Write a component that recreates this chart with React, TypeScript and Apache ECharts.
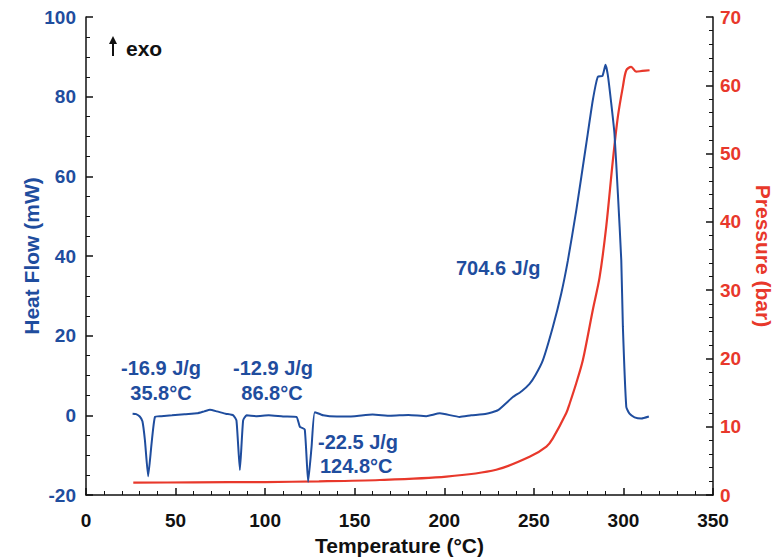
import React, { useEffect, useRef } from "react";
import * as echarts from "echarts";

const BLUE = "#1f4d9e";
const RED = "#e8382b";

// Heat flow (mW) vs temperature (°C)
const heatTemp = [26, 28, 30, 31.5, 32.9, 34.7, 36.6, 38.5, 42, 48, 55, 62, 66, 69.2, 73, 78, 82.2, 84, 85.9, 87.7, 89.6, 95, 102, 110, 117.5, 119.4, 122.1, 124, 125.9, 127.7, 132.4, 140, 150, 160, 170, 180, 190, 197.5, 208.6, 215, 223.5, 230, 238.3, 243, 247.6, 251, 255, 260.6, 265.3, 269, 273.7, 279.3, 282.9, 285.7, 288.3, 290, 291.3, 293.2, 295, 296.9, 298.8, 299.7, 301.6, 303.4, 306.2, 310, 314.2];
const heatFlow = [0.4, 0.3, -0.3, -1.5, -6.3, -15.3, -7.1, -0.4, -0.2, 0, 0.3, 0.5, 1.0, 1.4, 1.0, 0.4, 0, -1.3, -13.7, -1.3, 0, -0.2, 0, -0.3, -0.4, -2.9, -3.5, -16.7, -8, 0.8, 0, -0.3, -0.2, 0.2, -0.1, 0.1, -0.2, 0.5, -0.4, 0, 0.4, 1.3, 4.6, 6.0, 7.9, 10.2, 13.8, 22.2, 30.6, 38.9, 51.5, 68.3, 79.1, 85, 85.2, 88, 85.4, 78.3, 70.7, 55.7, 38.9, 22.2, 2.1, 0.4, -0.5, -0.8, -0.3];

// Pressure (bar) vs temperature (°C)
const presTemp = [26.4, 60, 100, 130, 164, 201.2, 229, 247.6, 257, 260.6, 268.1, 270, 273.7, 277.4, 282.9, 286.7, 290.4, 294.1, 296.9, 299.7, 301.6, 304.3, 307.1, 310.5, 314.6];
const pressure = [1.8, 1.85, 1.9, 2.0, 2.2, 2.7, 3.7, 5.6, 7.1, 8.3, 12, 13.4, 16.4, 19.8, 27.1, 31.9, 39.3, 49, 55.4, 59.8, 62.2, 62.7, 62, 62.1, 62.2];

const heatTicks = { min: -20, max: 100, interval: 20 };
const presTicks = { min: 0, max: 70, interval: 10 };
const tempTicks = { min: 0, max: 350, interval: 50 };

const FONT = "'Liberation Sans', Arial, sans-serif";

export default function App() {
  const ref = useRef<HTMLDivElement>(null);
  useEffect(() => {
    if (!ref.current) return;
    const chart = echarts.init(ref.current, undefined, { renderer: "svg" });
    const axisLine = { show: true, onZero: false, lineStyle: { color: "#111", width: 1.5 } };
    const tickStyle = { fontFamily: FONT, fontWeight: "bold" as const, fontSize: 19 };
    const nameStyle = { fontFamily: FONT, fontWeight: "bold" as const, fontSize: 21 };
    const ann = (text: string, x: number, y: number, align: string) => ({
      type: "text",
      x,
      y,
      style: { text, fontFamily: FONT, fontSize: 20, fontWeight: "bold", fill: BLUE, align, verticalAlign: "middle" },
    });
    chart.setOption({
      animation: false,
      backgroundColor: "#fff",
      grid: { left: 86, right: 71, top: 17, bottom: 63, containLabel: false, outerBoundsMode: "none" },
      xAxis: {
        type: "value",
        ...tempTicks,
        name: "Temperature (°C)",
        nameLocation: "middle",
        nameGap: 38,
        nameTextStyle: { ...nameStyle, color: "#111" },
        axisLine,
        axisTick: { show: true, inside: true, length: 7, lineStyle: { color: "#111", width: 1.5 } },
        minorTick: { show: true, splitNumber: 5, length: 4, lineStyle: { color: "#111", width: 1 } },
        axisLabel: { ...tickStyle, color: "#111", margin: 16 },
        splitLine: { show: false },
      },
      yAxis: [
        {
          type: "value",
          position: "left",
          ...heatTicks,
          name: "Heat Flow (mW)",
          nameLocation: "middle",
          nameRotate: 90,
          nameGap: 44,
          nameMoveOverlap: false,
          nameTextStyle: { ...nameStyle, color: BLUE },
          axisLine,
          axisTick: { show: true, inside: true, length: 7, lineStyle: { color: "#111", width: 1.5 } },
          minorTick: { show: true, splitNumber: 4, length: 4, lineStyle: { color: "#111", width: 1 } },
          axisLabel: { ...tickStyle, color: BLUE, margin: 10 },
          splitLine: { show: false },
        },
        {
          type: "value",
          position: "right",
          ...presTicks,
          name: "Pressure (bar)",
          nameLocation: "middle",
          nameRotate: -90,
          nameGap: 40,
          nameTextStyle: { ...nameStyle, color: RED },
          axisLine,
          axisTick: { show: true, inside: true, length: 7, lineStyle: { color: "#111", width: 1.5 } },
          minorTick: { show: true, splitNumber: 5, length: 4, lineStyle: { color: "#111", width: 1 } },
          axisLabel: { ...tickStyle, color: RED, margin: 7 },
          splitLine: { show: false },
        },
      ],
      series: [
        {
          type: "line",
          name: "Pressure",
          yAxisIndex: 1,
          showSymbol: false,
          smooth: 0.3,
          data: presTemp.map((t, i) => [t, pressure[i]]),
          lineStyle: { color: RED, width: 2.2 },
          z: 2,
        },
        {
          type: "line",
          name: "Heat Flow",
          yAxisIndex: 0,
          showSymbol: false,
          smooth: 0.15,
          data: heatTemp.map((t, i) => [t, heatFlow[i]]),
          lineStyle: { color: BLUE, width: 2 },
          z: 3,
        },
      ],
      graphic: [
        { type: "line", shape: { x1: 113, y1: 56, x2: 113, y2: 39 }, style: { stroke: "#111", lineWidth: 2 } },
        { type: "polygon", shape: { points: [[113, 36], [109, 44], [117, 44]] }, style: { fill: "#111" } },
        { type: "text", x: 126, y: 48, style: { text: "exo", fontFamily: FONT, fontSize: 21, fontWeight: "bold", fill: "#111", align: "left", verticalAlign: "middle" } },
        ann("-16.9 J/g", 161, 368, "center"),
        ann("35.8°C", 161, 393, "center"),
        ann("-12.9 J/g", 273, 368, "center"),
        ann("86.8°C", 272, 393, "center"),
        ann("-22.5 J/g", 318, 442, "left"),
        ann("124.8°C", 320, 466, "left"),
        ann("704.6 J/g", 456, 268, "left"),
      ],
    });
    return () => chart.dispose();
  }, []);
  return <div ref={ref} style={{ width: 784, height: 558, position: "absolute", left: 0, top: 0 }} />;
}
